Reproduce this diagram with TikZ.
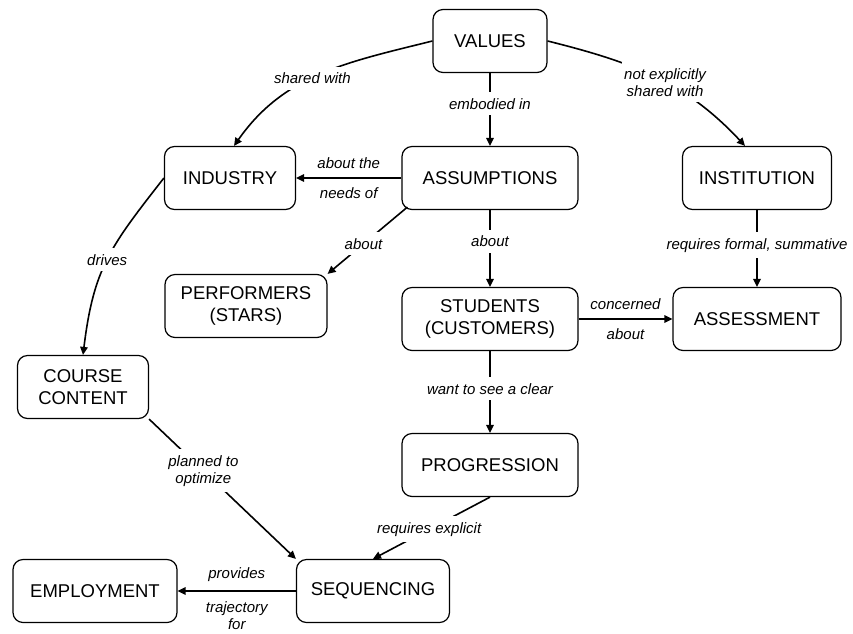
\documentclass[tikz,border=0pt]{standalone}
\usepackage{fontspec}
\setmainfont{Liberation Sans}
\usetikzlibrary{positioning, arrows.meta}
\tikzset{
concept/.style={draw, line width=1.2pt, rounded corners=10pt, minimum height=63pt, inner sep=0pt, align=center, font=\fontsize{18.5}{22}\selectfont}, % the boxes of the map
link/.style={line width=1.6pt, -{Triangle[length=8pt,width=7.5pt]}}, % the connectors
linktext/.style={font=\fontsize{15}{17}\selectfont\itshape, align=center, fill=white, inner xsep=2pt, inner ysep=6pt}, % text that breaks a connector
sidetext/.style={font=\fontsize{15}{17}\selectfont\itshape, align=center, inner sep=0pt}, % text above or below a connector
}

\begin{document}
\begin{tikzpicture}[x=1pt, y=-1pt]
\useasboundingbox (0,0) rectangle (853,633);
% concepts
\node[concept, minimum width=114pt] (values) at (490,41) {VALUES};
\node[concept, minimum width=131pt] (industry) at (230,178) {INDUSTRY};
\node[concept, minimum width=176pt] (assumptions) at (490,178) {ASSUMPTIONS};
\node[concept, minimum width=149pt] (institution) at (757,178) {INSTITUTION};
\node[concept, minimum width=162pt] (performers) at (246,306) {PERFORMERS\\(STARS)};
\node[concept, minimum width=176pt] (students) at (490,319) {STUDENTS\\(CUSTOMERS)};
\node[concept, minimum width=168pt] (assessment) at (757,319) {ASSESSMENT};
\node[concept, minimum width=131pt] (content) at (83,387) {COURSE\\CONTENT};
\node[concept, minimum width=176pt] (progression) at (490,465) {PROGRESSION};
\node[concept, minimum width=153pt] (sequencing) at (373,591) {SEQUENCING};
\node[concept, minimum width=164pt] (employment) at (95,591) {EMPLOYMENT};
% links
\draw[link] (values.west) to[out=194, in=55] node[linktext, pos=0.54] {shared with} ([xshift=4pt]industry.north);
\draw[link] (values.east) to[out=-14, in=133] node[linktext, pos=0.55] {not explicitly\\shared with} ([xshift=-12pt]institution.north);
\draw[link] (values) -- node[linktext, pos=0.42] {embodied in} (assumptions);
\draw[link] (assumptions) -- (industry)
  node[sidetext, midway, above=9pt] {about the}
  node[sidetext, midway, below=9pt] {needs of};
\draw[link] ([xshift=6pt,yshift=3pt]assumptions.south west) -- node[linktext, pos=0.55] {about} (performers.north east);
\draw[link] (assumptions) -- node[linktext, pos=0.41] {about} (students);
\draw[link] (institution) -- node[linktext, pos=0.46] {requires formal, summative} (assessment);
\draw[link] (students) -- (assessment)
  node[sidetext, midway, above=9pt] {concerned}
  node[sidetext, midway, below=9pt] {about};
\draw[link] (students) -- node[linktext, pos=0.46] {want to see a clear} (progression);
\draw[link] (industry.west) to[out=232, in=83, looseness=1.15] node[linktext] {drives} (content.north);
\draw[link] (content.south east) -- node[linktext, pos=0.37] {planned to\\optimize} (sequencing.north west);
\draw[link] (progression.south) -- node[linktext, pos=0.52] {requires explicit} (sequencing.north);
\draw[link] (sequencing) -- (employment)
  node[sidetext, midway, above=9pt] {provides}
  node[sidetext, midway, below=10pt] {trajectory\\for};
\end{tikzpicture}
\end{document}
